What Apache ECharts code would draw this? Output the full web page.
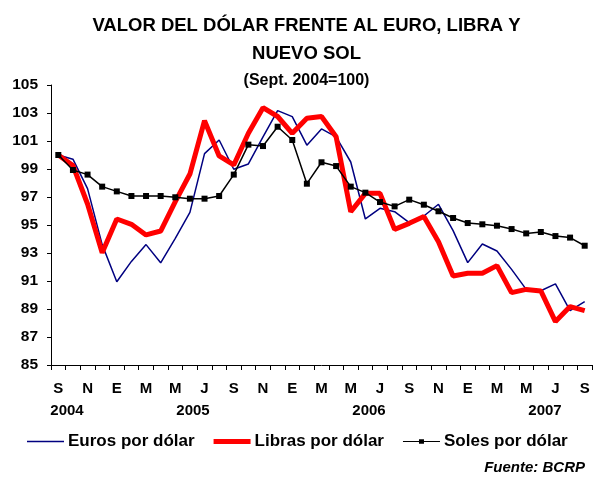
<!DOCTYPE html>
<html>
<head>
<meta charset="utf-8">
<script src="https://cdn.jsdelivr.net/npm/echarts@6/dist/echarts.min.js"></script>
<style>
html,body{margin:0;padding:0;background:#fff;}
#c{width:593px;height:478px;}
</style>
</head>
<body>
<div id="c"></div>
<script>
var months = ['S','O','N','D','E','F','M','A','M','J','J','A',
              'S','O','N','D','E','F','M','A','M','J','J','A',
              'S','O','N','D','E','F','M','A','M','J','J','A','S'];
var years = ['2004','2005','2006','2007'];
var yTicks = [85,87,89,91,93,95,97,99,101,103,105];
var titleLines = ['VALOR DEL DÓLAR FRENTE AL EURO, LIBRA Y', 'NUEVO SOL', '(Sept. 2004=100)'];

var euros = [100.0, 99.7, 97.6, 93.6, 90.95, 92.4, 93.6, 92.3, 94.05, 95.9, 100.1, 101.07,
             98.98, 99.36, 101.3, 103.17, 102.74, 100.7, 101.86, 101.3, 99.5, 95.43, 96.19, 95.95,
             95.17, 95.64, 96.48, 94.6, 92.31, 93.64, 93.14, 91.83, 90.4, 90.3, 90.79, 88.88, 89.52];
var libras = [100.0, 99.25, 96.5, 93.02, 95.43, 95.05, 94.29, 94.57, 96.67, 98.64, 102.45, 99.93,
              99.29, 101.55, 103.38, 102.75, 101.55, 102.62, 102.75, 101.3, 95.95, 97.26, 97.26, 94.69,
              95.12, 95.6, 93.8, 91.36, 91.55, 91.55, 92.1, 90.17, 90.4, 90.29, 88.1, 89.17, 88.88];
var soles = [100.0, 98.93, 98.6, 97.74, 97.4, 97.07, 97.07, 97.07, 96.98, 96.88, 96.88, 97.07,
             98.6, 100.74, 100.64, 102.02, 101.07, 97.95, 99.48, 99.21, 97.74, 97.31, 96.64, 96.33,
             96.81, 96.45, 95.98, 95.5, 95.14, 95.05, 94.95, 94.71, 94.4, 94.5, 94.21, 94.1, 93.52];

var font = 'Arial, "Liberation Sans", sans-serif';
var chart = echarts.init(document.getElementById('c'), null, {renderer: 'canvas'});
var yearX = [67, 193, 369, 545];
var graphics = years.map(function (y, i) {
  return {type: 'text', x: yearX[i], y: 411,
    style: {text: y, font: 'bold 15px ' + font, fill: '#000', textAlign: 'center', textVerticalAlign: 'middle'}};
});
var titleY = [26, 53.5, 80.5];
var titleSize = [18.5, 18.5, 16];
titleLines.forEach(function (t, i) {
  graphics.push({type: 'text', x: 306.5, y: titleY[i],
    style: {text: t, font: 'bold ' + titleSize[i] + 'px ' + font, fill: '#000', textAlign: 'center', textVerticalAlign: 'middle'}});
});
graphics.push({type: 'text', right: 8, top: 460,
  style: {text: 'Fuente: BCRP', font: 'italic bold 15px ' + font, fill: '#000'}});

var lineIcon = function (h) {
  var a = (12 - h) / 2, b = a + h;
  return 'path://M0,0M37,12M0,' + a + 'L37,' + a + 'L37,' + b + 'L0,' + b + 'Z';
};
var solesIcon = 'path://M0,0M37,12M0,5.4L16,5.4L16,3.7L21,3.7L21,5.4L37,5.4L37,6.6L21,6.6L21,8.3L16,8.3L16,6.6L0,6.6Z';

chart.setOption({
  backgroundColor: '#fff',
  animation: false,
  grid: {left: 51, right: 1, top: 85, bottom: 113},
  legend: {
    left: 27, top: 433, padding: 0, itemWidth: 37, itemHeight: 12, itemGap: 19,
    textStyle: {fontFamily: font, fontWeight: 'bold', fontSize: 17, color: '#000', padding: [0, 0, 0, -1]},
    data: [
      {name: 'Euros por dólar', icon: lineIcon(1.5)},
      {name: 'Libras por dólar', icon: lineIcon(5)},
      {name: 'Soles por dólar', icon: solesIcon}
    ]
  },
  xAxis: {
    type: 'category', data: months, boundaryGap: true,
    axisLine: {lineStyle: {color: '#000', width: 1}},
    axisTick: {show: true, interval: 0, length: 5, lineStyle: {color: '#000'}},
    axisLabel: {interval: 1, margin: 16, fontFamily: font, fontWeight: 'bold', fontSize: 15, color: '#000'},
    splitLine: {show: false}
  },
  yAxis: {
    type: 'value', min: yTicks[0], max: yTicks[yTicks.length - 1], interval: 2,
    axisLine: {show: true, lineStyle: {color: '#000', width: 1}},
    axisTick: {show: true, length: 4, lineStyle: {color: '#000'}},
    axisLabel: {margin: 13, fontFamily: font, fontWeight: 'bold', fontSize: 15.5, color: '#000'},
    splitLine: {show: false}
  },
  graphic: graphics,
  series: [
    {name: 'Euros por dólar', type: 'line', data: euros, symbol: 'none',
     lineStyle: {color: '#000080', width: 1.5}, itemStyle: {color: '#000080'}},
    {name: 'Libras por dólar', type: 'line', data: libras, symbol: 'none',
     lineStyle: {color: '#ff0000', width: 5}, itemStyle: {color: '#ff0000'}},
    {name: 'Soles por dólar', type: 'line', data: soles, symbol: 'rect', symbolSize: 6,
     lineStyle: {color: '#000', width: 1.5}, itemStyle: {color: '#000'}}
  ]
});
</script>
</body>
</html>
